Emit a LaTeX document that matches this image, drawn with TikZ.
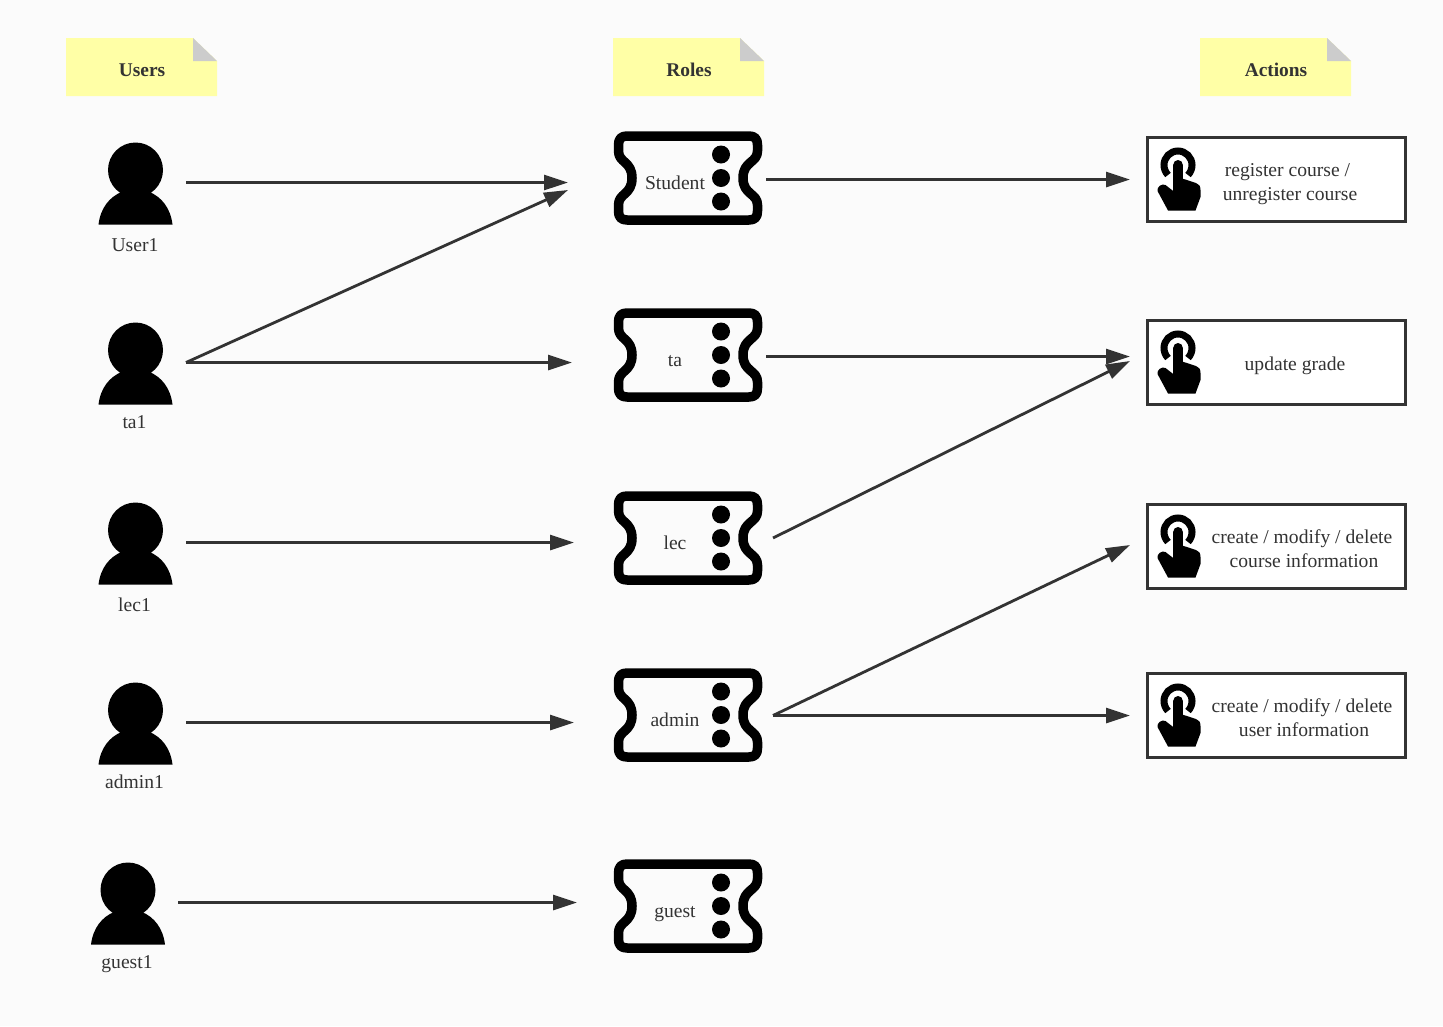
\documentclass[tikz,border=0pt]{standalone}
\usepackage{fontspec}
\setmainfont{Liberation Serif}
\usetikzlibrary{arrows.meta}
\definecolor{ink}{HTML}{333333}
\definecolor{notey}{HTML}{FFFFA6}
\definecolor{foldg}{HTML}{CCCCCC}
\definecolor{bgc}{HTML}{FBFBFB}
\tikzset{
  txt/.style={text=ink,font=\fontsize{19.6}{24}\selectfont,inner sep=0pt,align=center},
  lab/.style={txt,anchor=base},
  hd/.style={lab,font=\fontsize{19.4}{24}\selectfont\bfseries},
  link/.style={draw=ink,line width=2.8pt,-{Triangle[length=24pt,width=15pt]}},
  actbox/.style={draw=ink,line width=3pt,fill=white},
  pics/personicon/.style={code={
    \fill[black] (0,0) circle (27.5);
    \fill[black] (-37,54.5) .. controls (-35,38) and (-26,27) .. (-14,22) -- (14,22)
       .. controls (26,27) and (35,38) .. (37,54.5) -- cycle;
  }},
  pics/ticketicon/.style={code={
    \draw[black,line width=9.5pt,line join=round]
      (-61,-42) -- (61,-42) .. controls (67,-42) and (69.5,-39) .. (69.5,-33)
      -- (69.5,-27) .. controls (69.5,-15) and (55,-17) .. (55,0)
      .. controls (55,17) and (69.5,15) .. (69.5,27) -- (69.5,33)
      .. controls (69.5,39) and (67,42) .. (61,42) -- (-61,42)
      .. controls (-67,42) and (-69.5,39) .. (-69.5,33) -- (-69.5,27)
      .. controls (-69.5,15) and (-56,17) .. (-56,0)
      .. controls (-56,-17) and (-69.5,-15) .. (-69.5,-27) -- (-69.5,-33)
      .. controls (-69.5,-39) and (-67,-42) .. (-61,-42) -- cycle;
    \fill[black] (33,-23.5) circle (9) (33,0) circle (9) (33,23.5) circle (9);
  }},
  pics/handicon/.style={code={
    \draw[black,line width=7pt]
      (-10,8) .. controls (-13,5) and (-14,1) .. (-14,-2)
      arc[start angle=180,end angle=360,radius=14]
      .. controls (14,1) and (13,5) .. (10,8);
    \fill[black] (-4.8,-2.2) arc[start angle=180,end angle=360,radius=4.8]
      -- (4.8,11.7) -- (18,16) .. controls (21,17) and (22.5,19) .. (22.5,23)
      -- (22.5,30) -- (17.5,43.5) -- (-10,43.5) -- (-20.5,24)
      .. controls (-21.5,20) and (-16,16) .. (-12.5,18) -- (-4.8,24) -- cycle;
  }},
  pics/noteicon/.style={code={
    \fill[notey] (0,0) -- (127,0) -- (151,23) -- (151,58) -- (0,58) -- cycle;
    \fill[foldg] (127,0) -- (151,23) -- (127,23) -- cycle;
  }}
}
\begin{document}
\begin{tikzpicture}[x=1pt,y=-1pt]
\useasboundingbox (0,0) rectangle (1443,1026);
\fill[bgc] (0,0) rectangle (1443,1026);

% headers
\pic at (66,38) {noteicon};
\pic at (613,38) {noteicon};
\pic at (1200,38) {noteicon};
\node[hd] (hu) at (142,76) {Users};
\node[hd] (hr) at (689,76) {Roles};
\node[hd] (ha) at (1276,76) {Actions};

% users
\pic at (135.5,170) {personicon};
\pic at (135.5,350) {personicon};
\pic at (135.5,530) {personicon};
\pic at (135.5,710) {personicon};
\pic at (128,890) {personicon};
\node[lab] (u1) at (135,251) {User1};
\node[lab] (u2) at (134.5,428) {ta1};
\node[lab] (u3) at (134.5,611) {lec1};
\node[lab] (u4) at (134.5,788) {admin1};
\node[lab] (u5) at (127,968) {guest1};

% roles
\pic at (688,178) {ticketicon};
\pic at (688,355) {ticketicon};
\pic at (688,538) {ticketicon};
\pic at (688,715) {ticketicon};
\pic at (688,906) {ticketicon};
\node[lab] (r1) at (675,189) {Student};
\node[lab] (r2) at (675,366) {ta};
\node[lab] (r3) at (675,549) {lec};
\node[lab] (r4) at (675,726) {admin};
\node[lab] (r5) at (675,917) {guest};

% actions
\draw[actbox] (1147,137.5) rectangle (1405.5,221.5);
\draw[actbox] (1147,320.5) rectangle (1405.5,404);
\draw[actbox] (1147,504.5) rectangle (1405.5,588);
\draw[actbox] (1147,673.5) rectangle (1405.5,757);
\pic at (1178,167) {handicon};
\pic at (1178,350) {handicon};
\pic at (1178,534) {handicon};
\pic at (1178,703) {handicon};
\node[txt] (a1) at (1290,184) {register course /\hspace{5pt}\mbox{}\\unregister course};
\node[lab] (a2) at (1295,370) {update grade};
\node[txt] (a3) at (1304,549) {create / modify / delete\hspace{4pt}\mbox{}\\course information};
\node[txt] (a4) at (1304,718) {create / modify / delete\hspace{4pt}\mbox{}\\user information};

% connector ends
\coordinate (u1o) at (186,182.5);
\coordinate (u2o) at (186,362.5);
\coordinate (u3o) at (186,542.5);
\coordinate (u4o) at (186,722.5);
\coordinate (u5o) at (178,902.5);
\coordinate (r1a) at (568,182.5);
\coordinate (r1b) at (568,190);
\coordinate (r2a) at (572,362.5);
\coordinate (r3a) at (574,542.5);
\coordinate (r4a) at (574,722.5);
\coordinate (r5a) at (577,902.5);
\coordinate (r1o) at (766,179.5);
\coordinate (r2o) at (766,356.5);
\coordinate (r3o) at (773,538);
\coordinate (r4o) at (773,715.5);
\coordinate (a1i) at (1130,179.5);
\coordinate (a2a) at (1130,356.5);
\coordinate (a2b) at (1130,361);
\coordinate (a3i) at (1130,545);
\coordinate (a4i) at (1130,715.5);

\draw[link] (u1o) -- (r1a);
\draw[link] (u2o) -- (r1b);
\draw[link] (u2o) -- (r2a);
\draw[link] (u3o) -- (r3a);
\draw[link] (u4o) -- (r4a);
\draw[link] (u5o) -- (r5a);
\draw[link] (r1o) -- (a1i);
\draw[link] (r2o) -- (a2a);
\draw[link] (r3o) -- (a2b);
\draw[link] (r4o) -- (a3i);
\draw[link] (r4o) -- (a4i);
\end{tikzpicture}
\end{document}
